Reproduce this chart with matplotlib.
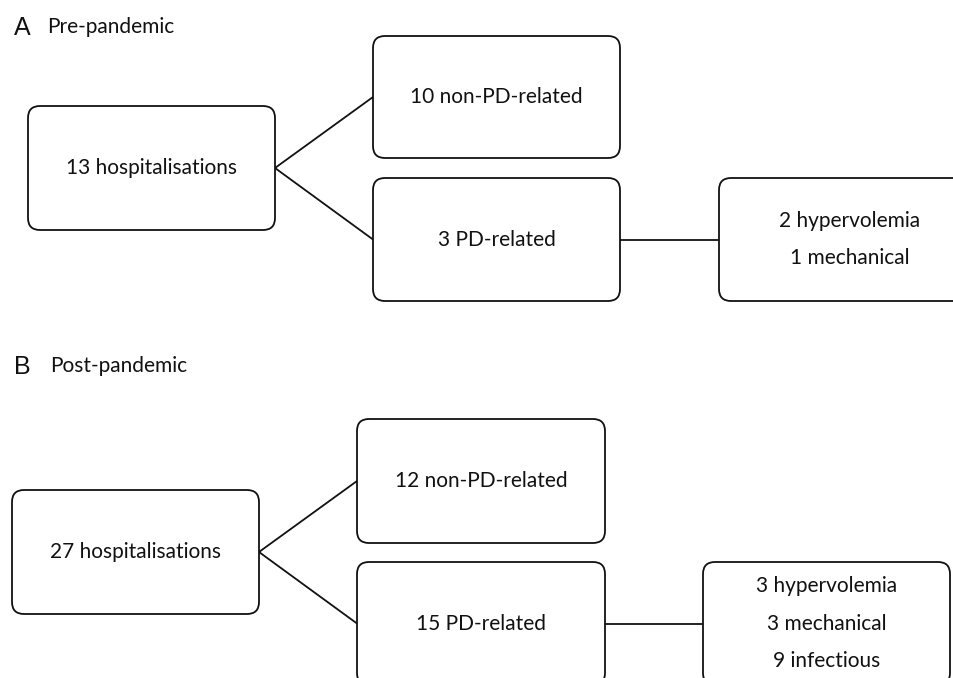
import matplotlib
matplotlib.use("Agg")
import matplotlib.pyplot as plt
from matplotlib.patches import FancyBboxPatch

# counts
pre_total = 13
pre_non_pd = 10
pre_pd = 3
pre_causes = ["hypervolemia", "mechanical"]
pre_cause_counts = [2, 1]

post_total = 27
post_non_pd = 12
post_pd = 15
post_causes = ["hypervolemia", "mechanical", "infectious"]
post_cause_counts = [3, 3, 9]

W, H = 954, 678
FONT = "Lato"
FS = 15
LW = 1.3


def box(ax, x0, y0, x1, y1, text):
    r = 12
    p = FancyBboxPatch((x0 + r, y0 + r), (x1 - x0) - 2 * r, (y1 - y0) - 2 * r,
                       boxstyle="round,pad=%d" % r, fc="white", ec="#111111",
                       lw=LW, zorder=2)
    ax.add_patch(p)
    ax.text((x0 + x1) / 2, (y0 + y1) / 2, text, ha="center", va="center",
            fontsize=FS, family=FONT, color="#111111", linespacing=2.08,
            zorder=3)


def line(ax, xs, ys):
    ax.plot(xs, ys, color="#111111", lw=LW, zorder=1, solid_capstyle="butt")


def panel(ax, letter, title, ly, tx, total, non_pd, pd, causes, counts, geo):
    b1, b2, b3, b4 = geo
    ax.text(14, ly, letter, ha="left", va="center", fontsize=18,
            family="Liberation Sans", color="#111111")
    ax.text(tx, ly - 1, title, ha="left", va="center", fontsize=FS,
            family=FONT, color="#111111")
    box(ax, *b1, "%d hospitalisations" % total)
    box(ax, *b2, "%d non-PD-related" % non_pd)
    box(ax, *b3, "%d PD-related" % pd)
    box(ax, *b4, "\n".join("%d %s" % (n, c) for n, c in zip(counts, causes)))
    ym1 = (b1[1] + b1[3]) / 2
    ym2 = (b2[1] + b2[3]) / 2
    ym3 = (b3[1] + b3[3]) / 2
    line(ax, [b1[2], b2[0]], [ym1, ym2])
    line(ax, [b1[2], b3[0]], [ym1, ym3])
    line(ax, [b3[2], b4[0]], [ym3, ym3])


fig = plt.figure(figsize=(W / 100, H / 100), dpi=100)
ax = fig.add_axes([0, 0, 1, 1])
ax.set_xlim(0, W)
ax.set_ylim(H, 0)
ax.axis("off")

panel(ax, "A", "Pre-pandemic", 28, 47, pre_total, pre_non_pd, pre_pd,
      pre_causes, pre_cause_counts,
      [(28, 106, 275, 230), (373, 36, 620, 158), (373, 178, 620, 301),
       (719, 178, 980, 301)])

panel(ax, "B", "Post-pandemic", 367, 50, post_total, post_non_pd, post_pd,
      post_causes, post_cause_counts,
      [(12, 490, 259, 614), (357, 419, 605, 543), (357, 562, 605, 685),
       (703, 562, 950, 685)])

fig.savefig("out.png", dpi=100)
